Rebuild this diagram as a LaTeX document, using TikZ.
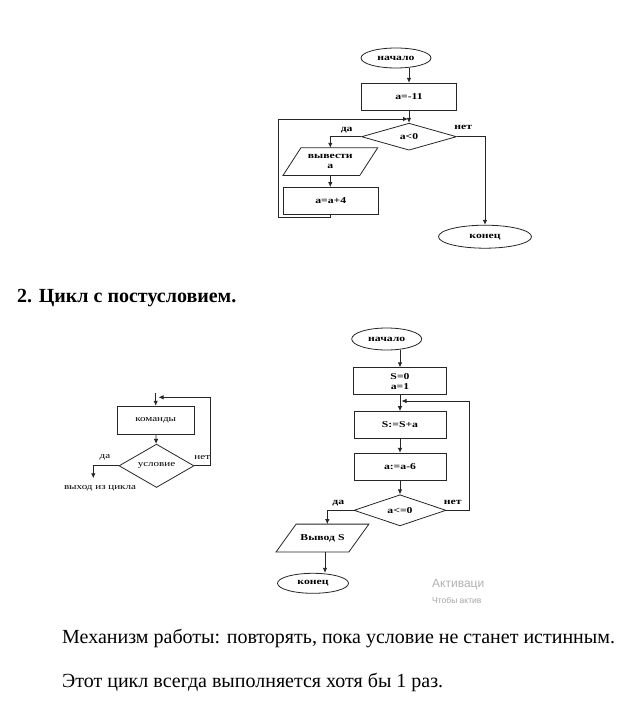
\documentclass[tikz,border=0pt]{standalone}
\usepackage{fontspec}
\setmainfont{Liberation Serif}
\newfontfamily\bodyfont{Liberation Serif}
\newfontfamily\chartfont[FakeStretch=1.3]{Liberation Serif}
\newfontfamily\winfont{Liberation Sans}
\usetikzlibrary{shapes.geometric,arrows.meta}
\begin{document}
\begin{tikzpicture}[x=1pt,y=-1pt,
  every node/.style={font=\chartfont\fontsize{9}{10}\selectfont\bfseries, inner sep=0pt},
  term/.style={draw, ellipse, minimum width=70pt, minimum height=20pt},
  proc/.style={draw, rectangle, minimum width=95pt, minimum height=27pt, align=center},
  cond/.style={draw, diamond, minimum width=95pt, minimum height=27pt},
  io/.style={rectangle, minimum width=94pt, minimum height=27pt, align=center},
  thin3/.style={font=\chartfont\fontsize{8.5}{10}\selectfont},
  text1/.style={font=\bodyfont\fontsize{20}{24}\selectfont, anchor=west},
  line/.style={line width=0.8pt, draw=black!85},
  arr/.style={line, -{Latex[length=5pt,width=4.5pt]}}]
\path[fill=white] (0,0) rectangle (628,703);
\useasboundingbox (0,0) rectangle (628,703);

\begin{scope}[every path/.style={line}]
\node[term] (start1) at (396,58) {начало};
\node[proc] (init1) at (409,96.7) {a=-11};
\node[cond] (cond1) at (409,136.7) {a<0};
\node[io] (out1) at (330.3,161.7) {вывести\\a};
\draw ([xshift=18pt]out1.north west) -- (out1.north east) -- ([xshift=-18pt]out1.south east) -- (out1.south west) -- cycle;
\node[proc] (step1) at (330.8,201) {a=a+4};
\node[term, minimum width=93pt, minimum height=23pt] (end1) at (485,236.7) {конец};
\coordinate (back1) at (278.3,217.7);
\coordinate (join1) at (408,119);
\draw[arr] (init1.north |- start1.south) -- (init1.north);
\draw[arr] (init1) -- (cond1);
\draw[arr] (cond1.west) -| (out1.north);
\draw[arr] (out1.south) -- (out1.south |- step1.north);
\draw[arr] (step1.south) -- (step1.south |- back1) -- (back1) |- (join1);
\draw[arr] (cond1.east) -| (end1.north);
\node (yes1) at (346.7,130) {да};
\node (no1) at (463.3,127.7) {нет};

\node[thin3] (body3) at (155.7,420.2) [proc, minimum width=77pt, minimum height=28pt] {команды};
\node[thin3] (cond3) at (156.5,465.8) [cond, minimum width=75pt, minimum height=30pt] {условие};
\coordinate (top3) at (156,393.3);
\coordinate (back3) at (210.7,397.3);
\coordinate (join3) at (158.5,397.3);
\coordinate (exit3) at (93.3,478.3);
\node[thin3] (out3) at (100,488.3) {выход из цикла};
\draw[arr] (body3.north |- top3) -- (body3.north);
\draw[arr] (body3) -- (cond3);
\draw[arr] (cond3.east) -| (back3) -- (join3);
\draw[arr] (cond3.west) -| (exit3);
\node[thin3] (yes3) at (105,457.3) {да};
\node[thin3] (no3) at (202.3,457.3) {нет};

\node[term, minimum height=22pt] (start2) at (386.7,339) {начало};
\node[proc, minimum width=93pt] (init2) at (400,381.3) {S=0\\a=1};
\node[proc, minimum width=92pt] (sum2) at (400,425) {S:=S+a};
\node[proc, minimum width=92pt] (dec2) at (400,466.7) {a:=a-6};
\node[cond, minimum width=92pt] (cond2) at (400,510.3) {a<=0};
\node[io, minimum width=92pt] (out2) at (322.5,538) {Вывод S};
\draw ([xshift=20pt]out2.north west) -- (out2.north east) -- ([xshift=-20pt]out2.south east) -- (out2.south west) -- cycle;
\node[term, minimum width=71pt] (end2) at (313,583.3) {конец};
\coordinate (back2) at (469,401);
\coordinate (join2) at (401.5,401);
\coordinate (fork2) at (327.3,538);
\draw[arr] (init2.north |- start2.south) -- (init2.north);
\draw[arr] (init2) -- (sum2);
\draw[arr] (sum2) -- (dec2);
\draw[arr] (dec2) -- (cond2);
\draw[arr] (cond2.east) -| (back2) -- (join2);
\draw[arr] (cond2.west) -| (fork2 |- out2.north);
\draw[arr] ([xshift=2.5pt]out2.south) -- ([xshift=2.5pt]out2.south |- end2.north);
\node (yes2) at (338.3,502.7) {да};
\node (no2) at (452.7,502.7) {нет};
\end{scope}

\node[text1, font=\bodyfont\bfseries\fontsize{20}{24}\selectfont] (head) at (17,298) {2. Цикл с постусловием.};
\node[text1] (rule1) at (62,638) {Механизм работы: повторять, пока условие не станет истинным.};
\node[text1] (rule2) at (62,682) {Этот цикл всегда выполняется хотя бы 1 раз.};

\begin{scope}
\clip (420,570) rectangle (484,610);
\node[font=\winfont\fontsize{12}{13}\selectfont, text=black!30, anchor=west] (wm1) at (432,585) {Активаци};
\node[font=\winfont\fontsize{8.5}{10}\selectfont, text=black!35, anchor=west] (wm2) at (432,600) {Чтобы актив};
\end{scope}
\end{tikzpicture}
\end{document}
